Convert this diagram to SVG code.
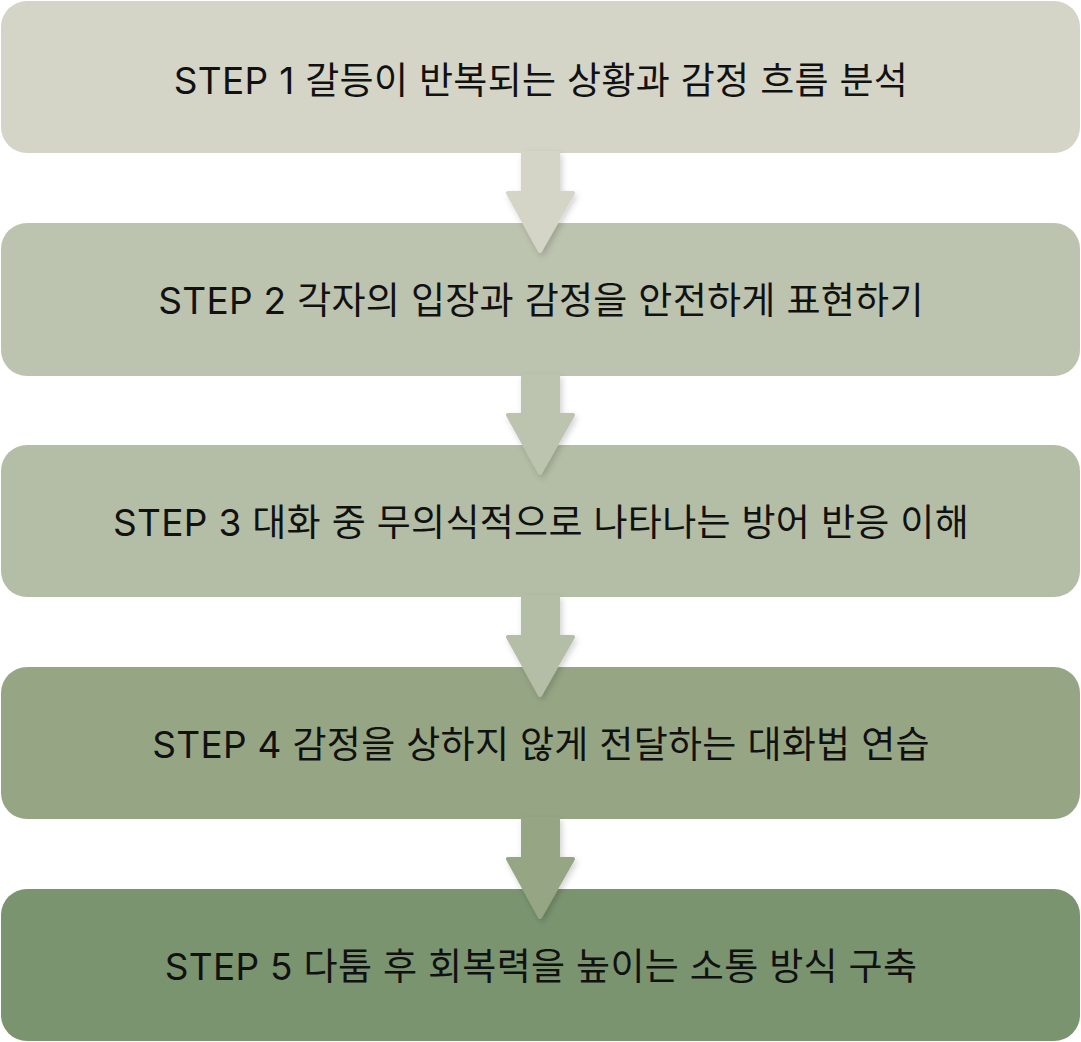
<svg xmlns="http://www.w3.org/2000/svg" width="1081" height="1042" viewBox="0 0 1081 1042">
<defs>
<style>
.t{font-family:"Inter","Noto Sans CJK KR",sans-serif;font-size:37px;font-weight:400;letter-spacing:0.3px;fill:#111;text-anchor:middle;dominant-baseline:central}
.a{stroke-linejoin:round;stroke-width:4}
</style>
<filter id="sh" x="-30%" y="-30%" width="160%" height="160%">
<feDropShadow dx="2" dy="3" stdDeviation="3" flood-color="#000" flood-opacity="0.18"/>
</filter>
</defs>
<g id="node1"><rect x="1" y="1" width="1079" height="152" rx="26" fill="#D4D5C7"/><text class="t" x="541" y="80">STEP 1 갈등이 반복되는 상황과 감정 흐름 분석</text></g>
<g id="node2"><rect x="1" y="223" width="1079" height="153" rx="26" fill="#BCC3AE"/><text class="t" x="541" y="300">STEP 2 각자의 입장과 감정을 안전하게 표현하기</text></g>
<g id="node3"><rect x="1" y="445" width="1079" height="152" rx="26" fill="#B4BEA6"/><text class="t" x="541" y="522">STEP 3 대화 중 무의식적으로 나타나는 방어 반응 이해</text></g>
<g id="node4"><rect x="1" y="667" width="1079" height="152" rx="26" fill="#96A685"/><text class="t" x="541" y="744">STEP 4 감정을 상하지 않게 전달하는 대화법 연습</text></g>
<g id="node5"><rect x="1" y="889" width="1079" height="152" rx="26" fill="#7A9470"/><text class="t" x="541" y="966">STEP 5 다툼 후 회복력을 높이는 소통 방식 구축</text></g>
<g id="connectors" filter="url(#sh)">
<path class="a" d="M523 153 H558 V193 H573 L540 251 L508 193 H523 Z" fill="#D4D5C7" stroke="#D4D5C7"/>
<path class="a" d="M523 376 H558 V415 H573 L540 473 L508 415 H523 Z" fill="#BCC3AE" stroke="#BCC3AE"/>
<path class="a" d="M523 597 H558 V637 H573 L540 695 L508 637 H523 Z" fill="#B4BEA6" stroke="#B4BEA6"/>
<path class="a" d="M523 819 H558 V859 H573 L540 917 L508 859 H523 Z" fill="#96A685" stroke="#96A685"/>
</g>
</svg>
